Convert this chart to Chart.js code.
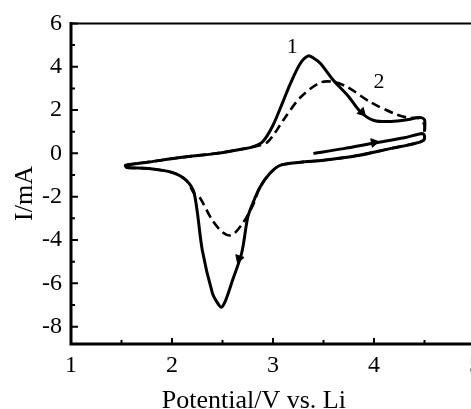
<!DOCTYPE html>
<html><head><meta charset="utf-8">
<script src="https://cdn.jsdelivr.net/npm/chart.js@4.4.1/dist/chart.umd.min.js"></script>
<style>
html,body{margin:0;padding:0;background:#fff;overflow:hidden;width:471px;height:409px}
#wrap{position:absolute;left:0;top:0;width:488px;height:409px}
</style></head><body>
<div id="wrap"><canvas id="c"></canvas></div>
<script>
// Cycle 1 (solid): starts at open-circuit potential, sweeps to 4.5 V, then full cycle
const cycle1V = [3.40,3.70,4.00,4.30,4.48,4.50,4.49,4.40,4.17,3.84,3.50,3.27,3.07,2.97,2.87,2.80,2.75,2.69,2.60,2.53,2.49,2.45,2.40,2.30,2.22,2.14,2.00,1.77,1.55,1.54,1.77,2.10,2.44,2.67,2.80,2.90,3.00,3.10,3.17,3.27,3.35,3.40,3.47,3.60,3.74,3.87,4.00,4.17,4.34,4.45,4.50,4.50];
const cycle1I = [0.00,0.22,0.48,0.72,0.92,0.80,0.60,0.45,0.23,-0.10,-0.32,-0.41,-0.55,-0.92,-1.57,-2.30,-2.95,-4.60,-5.85,-6.80,-7.10,-6.90,-6.45,-4.47,-1.85,-1.24,-0.88,-0.70,-0.65,-0.55,-0.40,-0.18,0.00,0.18,0.30,0.55,1.30,2.40,3.20,4.15,4.50,4.40,4.15,3.36,2.67,1.90,1.52,1.47,1.56,1.66,1.55,1.00];
// Cycle 2 (dashed)
const cycle2V = [4.50,4.49,4.40,4.17,3.84,3.50,3.27,3.07,2.97,2.87,2.80,2.70,2.59,2.50,2.40,2.27,2.22,2.14,2.00,1.77,1.55,1.54,1.77,2.10,2.44,2.67,2.80,2.94,3.02,3.10,3.27,3.47,3.60,3.74,3.97,4.20,4.34,4.45,4.50,4.50];
const cycle2I = [0.80,0.60,0.45,0.23,-0.10,-0.32,-0.41,-0.55,-0.92,-1.57,-2.40,-3.23,-3.78,-3.64,-3.09,-2.00,-1.85,-1.24,-0.88,-0.70,-0.65,-0.55,-0.40,-0.18,0.00,0.18,0.30,0.50,0.95,1.52,2.58,3.27,3.30,3.05,2.35,1.84,1.64,1.62,1.30,0.80];
// Sweep-direction arrows
const arrowV = [4.00, 2.665, 3.88];
const arrowI = [0.50, -4.85, 1.90];
const arrowAngle = [80, 198, 135];
// Curve labels
const labelText = ["1", "2"];
const labelV = [3.19, 4.05];
const labelI = [4.88, 3.27];
// Axis titles and ticks
const xTitle = "Potential/V vs. Li";
const yTitle = "I/mA";
const xTickValues = [1, 2, 3, 4, 5];
const xMinorTicks = [1.5, 2.5, 3.5, 4.5];
const yTickValues = [-8, -6, -4, -2, 0, 2, 4, 6];
const yMinorTicks = [-7, -5, -3, -1, 1, 3, 5];

const toPts = (xs, ys) => xs.map((x, i) => ({x, y: ys[i]}));
const serif = "'Liberation Serif','Times New Roman',serif";

const framePlugin = {
  id: 'frame',
  afterDraw(chart) {
    const {ctx, chartArea: a, scales: {x, y}} = chart;
    ctx.save();
    ctx.strokeStyle = '#000';
    ctx.lineCap = 'square';
    ctx.lineWidth = 3;
    ctx.beginPath();
    ctx.moveTo(a.left, a.top); ctx.lineTo(a.left, a.bottom); ctx.lineTo(a.right, a.bottom);
    ctx.stroke();
    ctx.lineWidth = 2;
    ctx.beginPath(); ctx.moveTo(a.left, a.top); ctx.lineTo(a.right, a.top); ctx.stroke();
    ctx.lineCap = 'butt';
    ctx.beginPath();
    yTickValues.forEach(v => { const p = y.getPixelForValue(v); ctx.moveTo(a.left, p); ctx.lineTo(a.left + 7, p); });
    yMinorTicks.forEach(v => { const p = y.getPixelForValue(v); ctx.moveTo(a.left, p); ctx.lineTo(a.left + 4, p); });
    xTickValues.forEach(v => { const p = x.getPixelForValue(v); ctx.moveTo(p, a.bottom); ctx.lineTo(p, a.bottom - 6); });
    xMinorTicks.forEach(v => { const p = x.getPixelForValue(v); ctx.moveTo(p, a.bottom); ctx.lineTo(p, a.bottom - 4); });
    ctx.stroke();
    ctx.fillStyle = '#000';
    ctx.textAlign = 'center';
    ctx.textBaseline = 'middle';
    ctx.font = "22px " + serif;
    labelText.forEach((t, i) => ctx.fillText(t, x.getPixelForValue(labelV[i]), y.getPixelForValue(labelI[i])));
    // axis titles
    ctx.font = "26px " + serif;
    ctx.textBaseline = 'alphabetic';
    ctx.fillText(xTitle, x.getPixelForValue(2.81), chart.height - 1);
    ctx.translate(32, y.getPixelForValue(-1.85));
    ctx.rotate(-Math.PI / 2);
    ctx.fillText(yTitle, 0, 0);
    ctx.restore();
  }
};

new Chart(document.getElementById('c'), {
  type: 'scatter',
  data: {
    datasets: [
      {label: '1', data: toPts(cycle1V, cycle1I), showLine: true, borderColor: '#000', borderWidth: 3, pointRadius: 0, tension: 0.3, fill: false},
      {label: '2', data: toPts(cycle2V, cycle2I), showLine: true, borderColor: '#000', borderWidth: 2.6, borderDash: [9, 5], pointRadius: 0, tension: 0.3, fill: false},
      {label: 'arrows', data: toPts(arrowV, arrowI), showLine: false, pointStyle: 'triangle', pointRadius: 5, pointRotation: arrowAngle, backgroundColor: '#000', borderColor: '#000', borderWidth: 1}
    ]
  },
  options: {
    responsive: true,
    maintainAspectRatio: false,
    animation: false,
    layout: {padding: {top: 21, left: 0, right: 0, bottom: 0}},
    plugins: {legend: {display: false}, tooltip: {enabled: false}},
    scales: {
      x: {
        type: 'linear', min: 1, max: 5,
        afterBuildTicks: s => { s.ticks = xTickValues.map(v => ({value: v})); },
        afterFit: s => { s.height = 65; },
        grid: {display: false, drawTicks: false},
        border: {display: false},
        ticks: {color: '#000', padding: 7, font: {family: serif, size: 24}},
        title: {display: false}
      },
      y: {
        type: 'linear', min: -8.8, max: 6,
        afterBuildTicks: s => { s.ticks = yTickValues.map(v => ({value: v})); },
        afterFit: s => { s.width = 71; },
        grid: {display: false, drawTicks: false},
        border: {display: false},
        ticks: {color: '#000', padding: 9, font: {family: serif, size: 24}},
        title: {display: false}
      }
    }
  },
  plugins: [framePlugin]
});
</script>
</body></html>
